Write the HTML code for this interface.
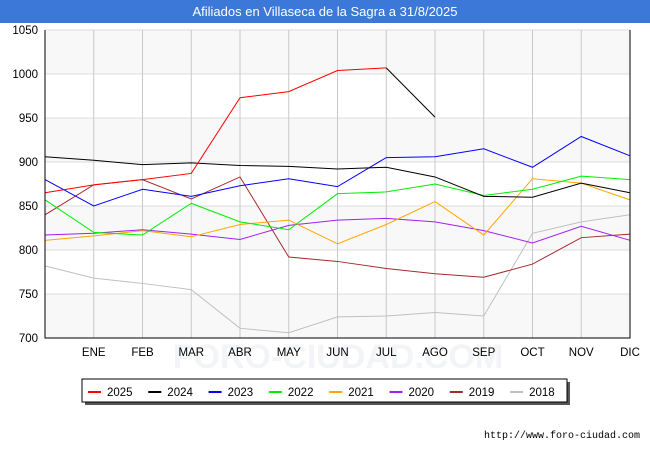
<!DOCTYPE html>
<html><head><meta charset="utf-8"><style>
body{margin:0;width:650px;height:450px;background:#fff;font-family:"Liberation Sans",sans-serif;overflow:hidden}
#title{position:absolute;left:0;top:0;width:650px;height:23px;background:#3b78d8;color:#fff;font-size:13px;text-align:center;line-height:23px}
svg{position:absolute;left:0;top:0}
</style></head><body>
<div id="title">Afiliados en Villaseca de la Sagra a 31/8/2025</div>
<svg id="c" width="650" height="450"></svg>
<script>
const months=["","ENE","FEB","MAR","ABR","MAY","JUN","JUL","AGO","SEP","OCT","NOV","DIC"];
const yTicks=[700,750,800,850,900,950,1000,1050];
const seriesNames=["2025","2024","2023","2022","2021","2020","2019","2018"];
const seriesColors=["#ff0000","#000000","#0000ff","#00ee00","#ffa500","#a020f0","#a52a2a","#c0c0c0"];
const s2025=[865,874,880,887,973,980,1004,1007,951];
const s2024=[906,902,897,899,896,895,892,894,883,861,860,876,865];
const s2023=[880,850,869,861,873,881,872,905,906,915,894,929,907];
const s2022=[857,820,817,853,832,823,864,866,875,862,869,884,880];
const s2021=[811,816,822,815,829,834,807,829,855,817,881,876,857];
const s2020=[817,819,823,818,812,828,834,836,832,822,808,827,811];
const s2019=[840,874,880,858,883,792,787,779,773,769,784,814,818];
const s2018=[782,768,762,755,711,706,724,725,729,725,819,832,840];
const allSeries=[s2025,s2024,s2023,s2022,s2021,s2020,s2019,s2018];
const svg=document.getElementById('c');const NS="http://www.w3.org/2000/svg";
const X0=45,X1=630,Y0=338,Y1=30;
const xs=i=>X0+i*(X1-X0)/12;
const ys=v=>Y0-(v-700)*(Y0-Y1)/350;
function mk(t,a,p){const e=document.createElementNS(NS,t);for(const k in a)e.setAttribute(k,a[k]);(p||svg).appendChild(e);return e;}
for(let i=0;i<yTicks.length-1;i++){if(i%2==0){const r=mk('rect',{x:X0,y:ys(yTicks[i+1]),width:X1-X0,height:ys(yTicks[i])-ys(yTicks[i+1]),fill:'#f8f8f8'});}}
const wm=mk('text',{x:338,y:368,'text-anchor':'middle','font-size':'34',fill:'#f3f4f8','font-weight':'bold'});wm.textContent="FORO-CIUDAD.COM";
yTicks.forEach(v=>{const l=mk('line',{x1:X0,x2:X1,y1:ys(v),y2:ys(v),stroke:'#dddddd'});
const t=mk('text',{x:X0-7,y:ys(v)+4,'text-anchor':'end','font-size':'11.5',fill:'#000'});t.textContent=v;});
months.forEach((m,i)=>{if(i>0){const l=mk('line',{x1:xs(i),x2:xs(i),y1:Y1,y2:Y0,stroke:'#c8c8c8'});
const t=mk('text',{x:xs(i),y:356,'text-anchor':'middle','font-size':'11.5',fill:'#000'});t.textContent=m;}});
for(let s=allSeries.length-1;s>=0;s--){const d=allSeries[s];let n=d.length;if(s==0)n=d.length-1;
const pts=d.slice(0,n).map((v,i)=>xs(i)+','+ys(v)).join(' ');
const p=mk('polyline',{points:pts,fill:'none',stroke:seriesColors[s],'stroke-width':1});
if(s==0){const k=d.length-1;const e=mk('line',{x1:xs(k-1),y1:ys(d[k-1]),x2:xs(k),y2:ys(d[k]),stroke:'#000','stroke-width':1});}}
const ax=mk('path',{d:`M${X0},${Y1}V${Y0}H${X1}V${Y1}`,fill:'none',stroke:'#000'});
const lg=mk('g',{});
mk('rect',{x:85,y:382,width:485,height:23,fill:'#555'},lg);
mk('rect',{x:82,y:379,width:485,height:23,fill:'#fff',stroke:'#000'},lg);
seriesNames.forEach((n,i)=>{const x=88+i*60.3;const l=mk('line',{x1:x,x2:x+13,y1:392,y2:392,stroke:seriesColors[i],'stroke-width':2},lg);
const t=mk('text',{x:x+19,y:396,'font-size':'11.5',fill:'#000'},lg);t.textContent=n;});
const u=mk('text',{x:640,y:438,'text-anchor':'end','font-size':'10','font-family':'Liberation Mono, monospace',fill:'#000'});u.textContent="http://www.foro-ciudad.com";
</script>
</body></html>
